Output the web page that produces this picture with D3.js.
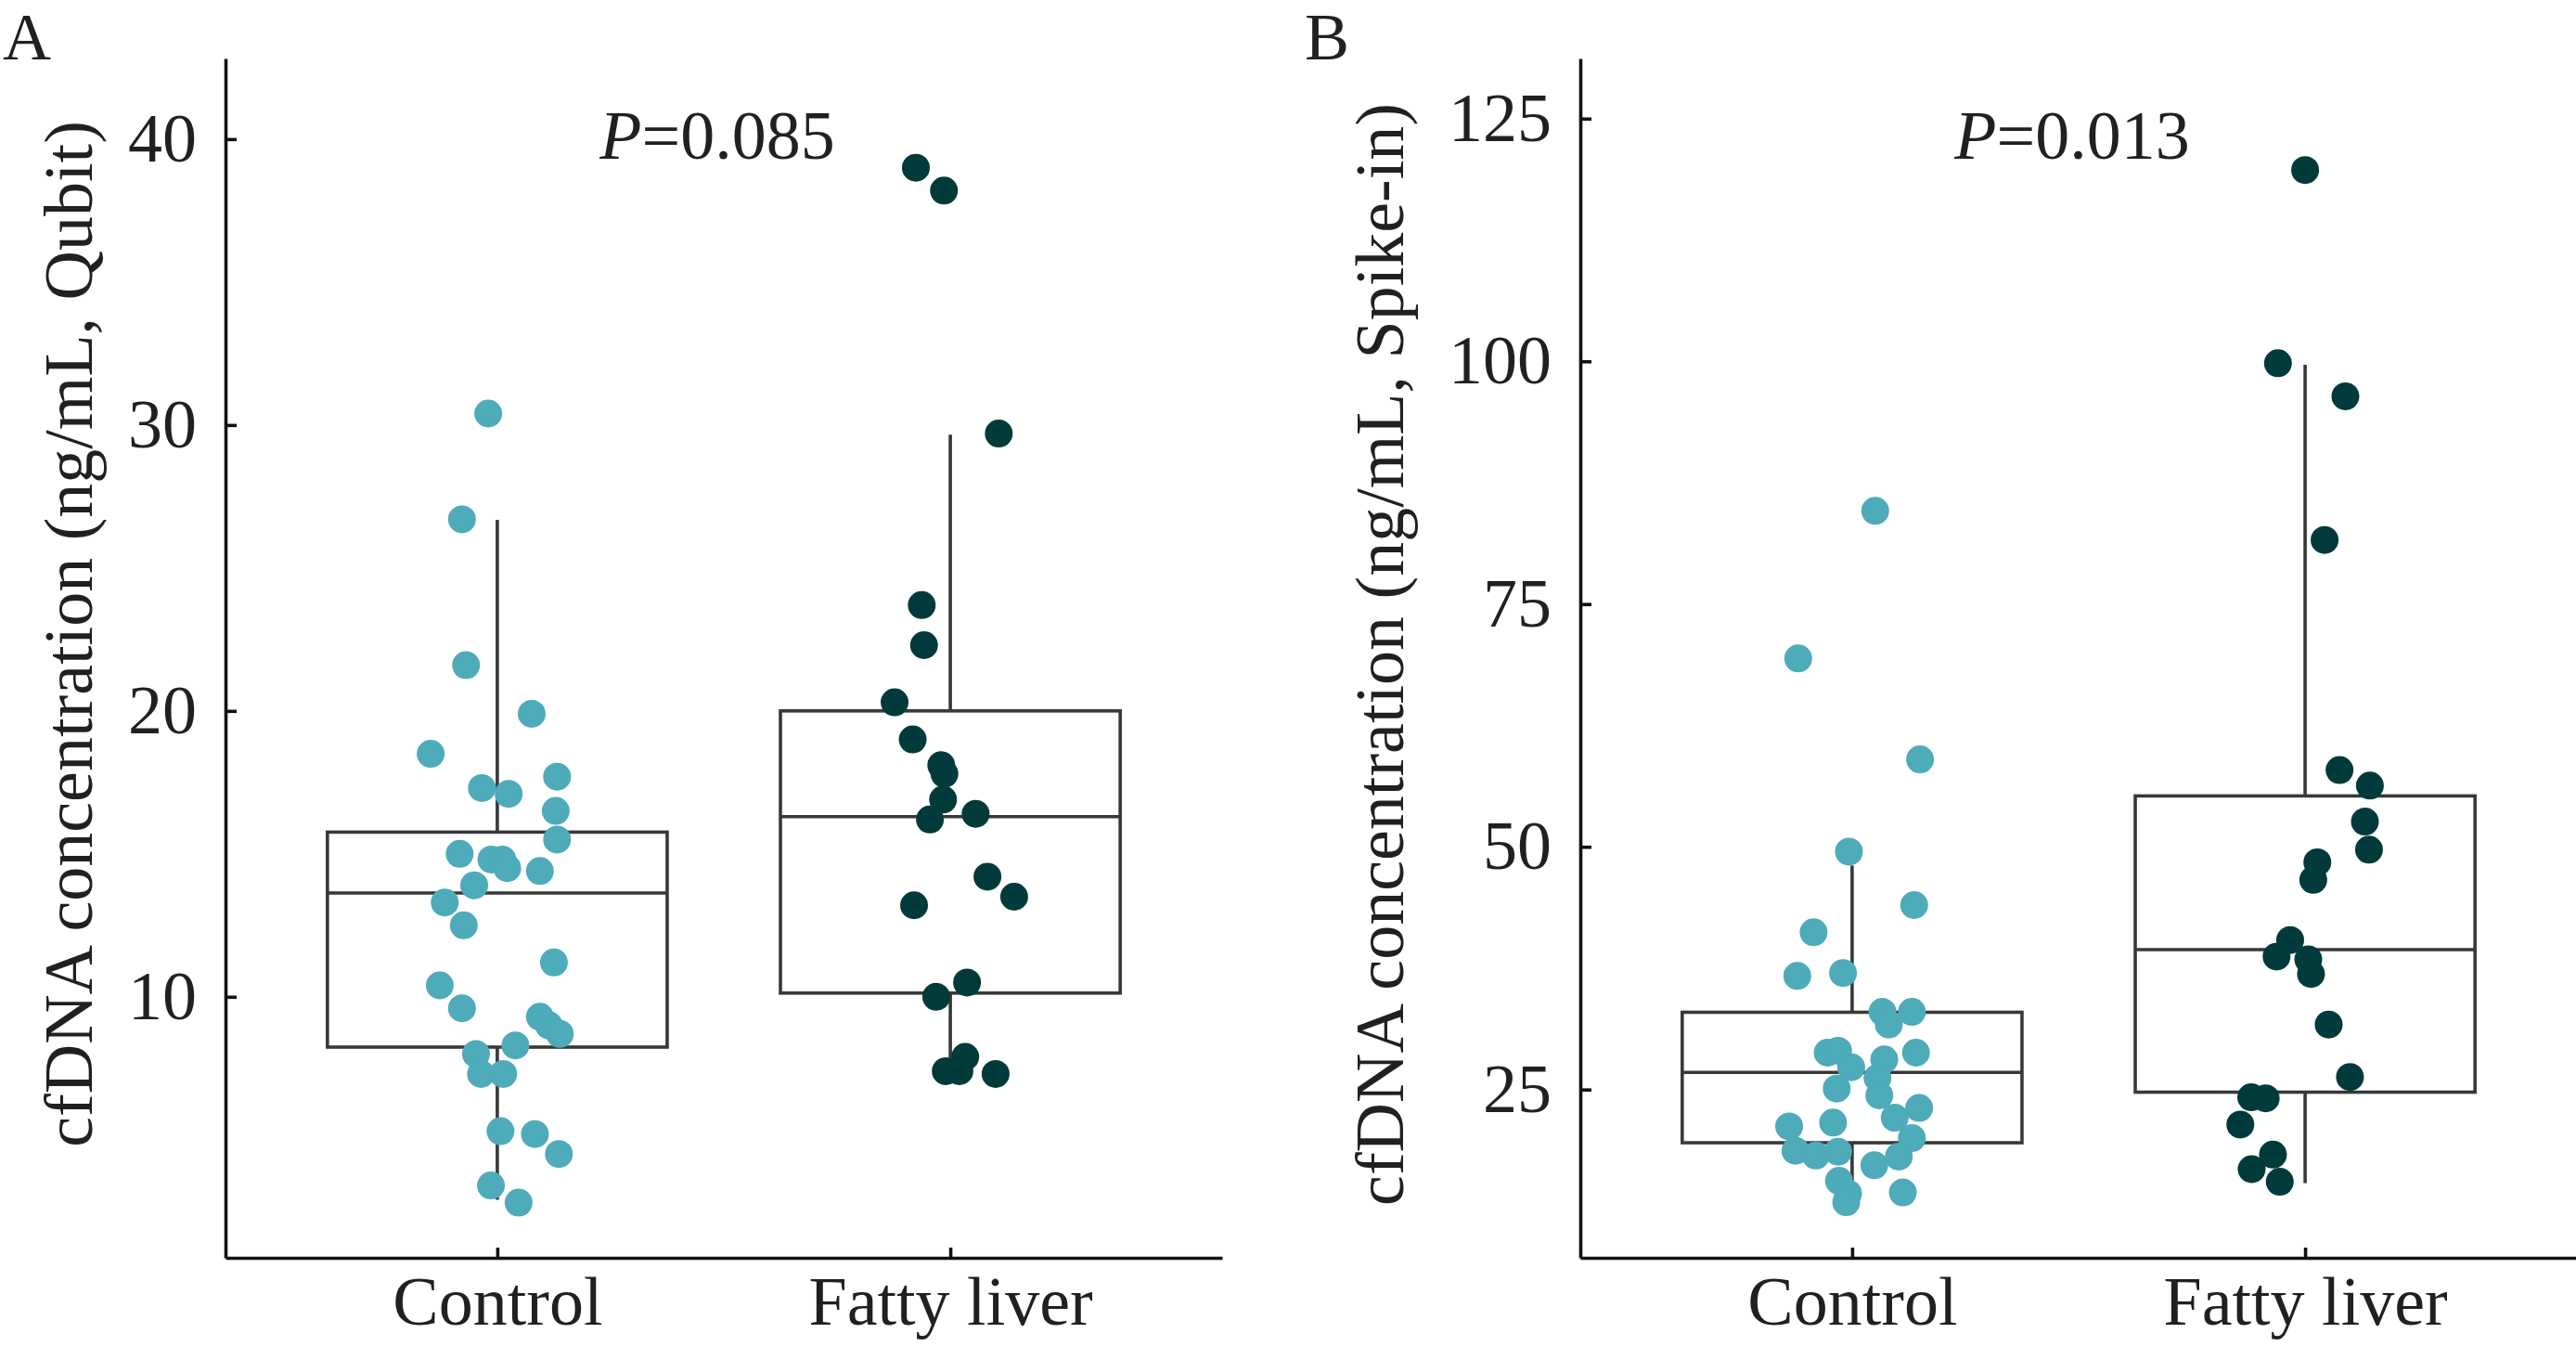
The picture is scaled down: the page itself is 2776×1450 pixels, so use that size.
<!DOCTYPE html>
<html lang="en">
  <head>
    <meta charset="UTF-8" />
    <script src="https://cdn.jsdelivr.net/npm/d3@7"></script>
    <style>
      * {
        margin: 0;
        padding: 0;
      }
      body {
        background: #fff;
      }
      #container svg {
        display: block;
      }
    </style>
    <title>cfDNA concentration</title>
  </head>
  <body>
    <div id="container"></div>
  </body>
  <script>
    const groups = ['Control', 'Fatty liver'];

    // panel A (Qubit)
    const controlA = [30.4, 26.7, 21.6, 19.9, 18.5, 17.3, 17.1, 17.7, 16.5, 15.5, 15.0, 14.8, 14.8, 14.5, 14.4, 13.9, 13.3, 12.5, 11.2, 10.4, 9.6, 9.3, 9.0, 8.7, 8.0, 8.3, 7.3, 7.3, 5.3, 5.2, 4.5, 3.4, 2.8];
    const jitterControlA = [-0.02, -0.078, -0.069, 0.076, -0.147, -0.034, 0.025, 0.132, 0.129, 0.132, -0.083, -0.013, 0.011, 0.022, 0.094, -0.051, -0.116, -0.074, 0.125, -0.127, -0.078, 0.094, 0.114, 0.138, -0.047, 0.04, -0.036, 0.013, 0.007, 0.083, 0.136, -0.014, 0.047];
    const fattyA = [39.0, 38.2, 29.7, 23.7, 22.3, 20.3, 19.0, 18.1, 17.8, 16.9, 16.4, 16.2, 14.2, 13.5, 13.2, 10.5, 10.0, 7.9, 7.4, 7.4, 7.3];
    const jitterFattyA = [-0.076, -0.014, 0.107, -0.063, -0.058, -0.123, -0.083, -0.02, -0.013, -0.016, 0.056, -0.045, 0.082, 0.141, -0.08, 0.037, -0.031, 0.033, -0.01, 0.02, 0.1];
    // [whisker low, Q1, median, Q3, whisker high]
    const boxA = [
      [2.9, 8.24, 13.63, 15.76, 26.68],
      [7.45, 10.13, 16.3, 20.0, 29.66],
    ];
    const ticksA = [10, 20, 30, 40];
    const domainA = [0.87, 42.82];

    // panel B (Spike-in)
    const controlB = [84.6, 69.4, 59.0, 49.5, 44.0, 41.2, 36.7, 37.0, 33.0, 33.0, 31.7, 28.8, 29.0, 28.8, 28.1, 27.3, 26.2, 25.1, 24.4, 23.1, 21.2, 21.6, 22.1, 20.0, 18.7, 18.2, 18.6, 18.1, 17.2, 15.6, 14.3, 14.4, 13.4];
    const jitterControlB = [0.051, -0.119, 0.15, -0.007, 0.137, -0.085, -0.121, -0.02, 0.067, 0.132, 0.081, -0.054, -0.031, 0.141, 0.071, -0.002, 0.056, -0.034, 0.06, 0.148, -0.139, -0.042, 0.094, 0.132, -0.125, -0.08, -0.031, 0.103, 0.049, -0.029, -0.009, 0.112, -0.013];
    const fattyB = [119.7, 99.8, 96.4, 81.6, 57.9, 56.3, 52.6, 49.7, 48.4, 46.6, 40.4, 38.7, 38.4, 36.9, 31.7, 26.3, 24.2, 24.1, 21.4, 18.3, 16.8, 15.5];
    const jitterFattyB = [0, -0.06, 0.089, 0.043, 0.076, 0.143, 0.132, 0.141, 0.027, 0.018, -0.033, -0.063, 0.007, 0.013, 0.052, 0.099, -0.119, -0.087, -0.143, -0.071, -0.118, -0.056];
    const boxB = [
      [14.3, 19.52, 26.77, 32.96, 48.08],
      [15.36, 24.73, 39.41, 55.24, 99.63],
    ];
    const ticksB = [25, 50, 75, 100, 125];
    const domainB = [7.67, 131.19];

    const colorMap = {
      Control: '#4eabba',
      'Fatty liver': '#003a3a',
    };

    const width = 2776;
    const height = 1450;
    const fontFamily = '"Liberation Serif", "Times New Roman", serif';
    const fontSize = 74;
    const textColor = '#231f20';
    const plotTop = 63;
    const plotBottom = 1355;

    const svg = d3
      .select('#container')
      .append('svg')
      .attr('width', width)
      .attr('height', height)
      .style('font-family', fontFamily);

    function drawPanel(p) {
      const x = d3
        .scalePoint()
        .domain(groups)
        .range([p.left, p.right])
        .padding(0.6);
      const y = d3.scaleLinear().domain(p.domain).range([plotBottom, plotTop]);
      const step = x.step();
      const boxW = step * 0.75;
      const g = svg.append('g');

      //panel letter
      svg
        .append('text')
        .text(p.letter)
        .attr('x', p.letterX)
        .attr('y', 64)
        .attr('font-size', 72)
        .attr('fill', textColor);

      //y axis
      const yAxis = g
        .append('g')
        .attr('transform', `translate(${p.left},0)`)
        .call(
          d3.axisLeft(y).tickValues(p.ticks).tickSize(-12).tickSizeOuter(0).tickPadding(31)
        );
      //x axis
      const xAxis = g
        .append('g')
        .attr('transform', `translate(0,${plotBottom})`)
        .call(d3.axisBottom(x).tickSize(-11).tickSizeOuter(0));
      [yAxis, xAxis].forEach((a) => {
        a.selectAll('path, line').attr('stroke', '#111').attr('stroke-width', 3.6);
        a.selectAll('text')
          .attr('font-size', fontSize)
          .attr('font-family', fontFamily)
          .attr('fill', textColor);
      });
      xAxis.selectAll('text').attr('y', 72).attr('dy', null);

      //y axis title
      svg
        .append('text')
        .text(p.title)
        .attr('transform', `translate(${p.titleX},${p.titleY}) rotate(-90)`)
        .attr('text-anchor', 'middle')
        .attr('font-size', fontSize)
        .attr('fill', textColor);

      //P value
      svg
        .append('text')
        .attr('x', (x(groups[0]) + x(groups[1])) / 2 - 7)
        .attr('y', 171)
        .attr('text-anchor', 'middle')
        .attr('font-size', fontSize)
        .attr('fill', textColor)
        .call((t) => {
          t.append('tspan').attr('font-style', 'italic').text('P');
          t.append('tspan').text('=' + p.pValue);
        });

      //boxes
      const boxes = g
        .append('g')
        .selectAll('g')
        .data(groups)
        .join('g')
        .attr('stroke', '#383838')
        .attr('stroke-width', 3.6)
        .attr('fill', 'none');
      boxes
        .append('line')
        .attr('x1', (d) => x(d))
        .attr('x2', (d) => x(d))
        .attr('y1', (d, i) => y(p.box[i][4]))
        .attr('y2', (d, i) => y(p.box[i][3]));
      boxes
        .append('line')
        .attr('x1', (d) => x(d))
        .attr('x2', (d) => x(d))
        .attr('y1', (d, i) => y(p.box[i][1]))
        .attr('y2', (d, i) => y(p.box[i][0]));
      boxes
        .append('rect')
        .attr('x', (d) => x(d) - boxW / 2)
        .attr('width', boxW)
        .attr('y', (d, i) => y(p.box[i][3]))
        .attr('height', (d, i) => y(p.box[i][1]) - y(p.box[i][3]));
      boxes
        .append('line')
        .attr('x1', (d) => x(d) - boxW / 2)
        .attr('x2', (d) => x(d) + boxW / 2)
        .attr('y1', (d, i) => y(p.box[i][2]))
        .attr('y2', (d, i) => y(p.box[i][2]));

      //points
      groups.forEach((grp, gi) => {
        const vals = p.values[gi];
        const jit = p.jitter[gi];
        g.append('g')
          .selectAll('circle')
          .data(vals)
          .join('circle')
          .attr('cx', (d, i) => x(grp) + jit[i] * step)
          .attr('cy', (d) => y(d))
          .attr('r', 15)
          .attr('fill', colorMap[grp]);
      });
    }

    drawPanel({
      letter: 'A',
      letterX: 3,
      left: 243,
      right: 1317,
      domain: domainA,
      ticks: ticksA,
      box: boxA,
      values: [controlA, fattyA],
      jitter: [jitterControlA, jitterFattyA],
      title: 'cfDNA concentration (ng/mL, Qubit)',
      titleX: 99,
      titleY: 683,
      pValue: '0.085',
    });

    drawPanel({
      letter: 'B',
      letterX: 1406,
      left: 1703,
      right: 2777,
      domain: domainB,
      ticks: ticksB,
      box: boxB,
      values: [controlB, fattyB],
      jitter: [jitterControlB, jitterFattyB],
      title: 'cfDNA concentration (ng/mL, Spike-in)',
      titleX: 1512,
      titleY: 705,
      pValue: '0.013',
    });
  </script>
</html>
